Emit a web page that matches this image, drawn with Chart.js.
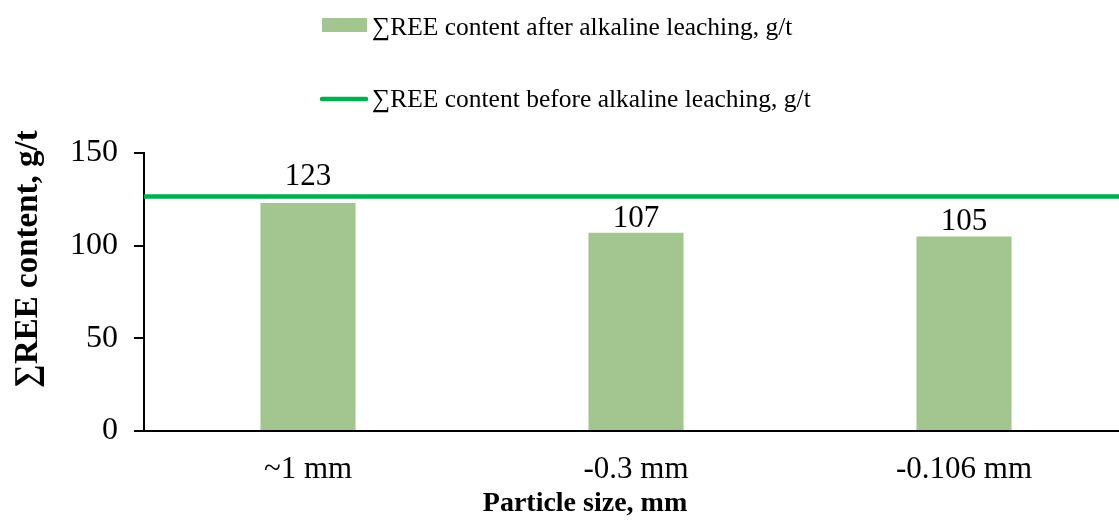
<!DOCTYPE html>
<html>
<head>
<meta charset="utf-8">
<script src="https://cdn.jsdelivr.net/npm/chart.js@4.4.1/dist/chart.umd.min.js"></script>
<style>
  html, body { margin: 0; padding: 0; background: #fff; overflow: hidden; }
  #reeChart { display: block; }
</style>
</head>
<body>
<canvas id="reeChart" width="1130" height="523"></canvas>
<script>
const particleSizes = ["~1 mm", "-0.3 mm", "-0.106 mm"];
const reeAfterLeaching = [123, 107, 105];
const reeBeforeLeaching = 126.5;
const legendLabels = [
    "∑REE content after alkaline leaching, g/t",
    "∑REE content before alkaline leaching, g/t"
];
const yAxisTitle = "∑REE content, g/t";
const xAxisTitle = "Particle size, mm";

const barColor = "#A3C58F";
const lineColor = "#00B050";
const serif = "'Liberation Serif', 'Times New Roman', serif";

// value labels above the bars, lifted over the reference line when they would cross it
const barValueLabels = {
    id: "barValueLabels",
    afterDatasetsDraw(chart) {
        const ctx = chart.ctx;
        const lineY = chart.scales.y.getPixelForValue(reeBeforeLeaching);
        const meta = chart.getDatasetMeta(0);
        ctx.save();
        ctx.font = `31px ${serif}`;
        ctx.fillStyle = "#000";
        ctx.textAlign = "center";
        ctx.textBaseline = "alphabetic";
        meta.data.forEach((bar, i) => {
            let y = bar.y - 6;
            if (y + 3 > lineY && y - 24 < lineY) {
                y = lineY - 12;
            }
            ctx.fillText(String(reeAfterLeaching[i]), bar.x, y);
        });
        ctx.restore();
    }
};

// two-row legend and both axis titles
const chartDecor = {
    id: "chartDecor",
    afterDraw(chart) {
        const ctx = chart.ctx;
        ctx.save();
        ctx.font = `25.5px ${serif}`;
        ctx.textAlign = "left";
        ctx.textBaseline = "alphabetic";

        ctx.fillStyle = barColor;
        ctx.fillRect(322, 18, 45, 14);
        ctx.fillStyle = "#000";
        ctx.fillText(legendLabels[0], 372, 35);

        ctx.strokeStyle = lineColor;
        ctx.lineWidth = 4.5;
        ctx.lineCap = "round";
        ctx.beginPath();
        ctx.moveTo(322, 99);
        ctx.lineTo(366, 99);
        ctx.stroke();
        ctx.fillText(legendLabels[1], 372, 107);

        ctx.font = `bold 28px ${serif}`;
        ctx.textAlign = "center";
        ctx.textBaseline = "middle";
        ctx.fillText(xAxisTitle, 585, 504);

        ctx.translate(28, 259);
        ctx.rotate(-Math.PI / 2);
        ctx.font = `bold 33px ${serif}`;
        ctx.fillText(yAxisTitle, 0, 0);
        ctx.restore();
    }
};

new Chart(document.getElementById("reeChart").getContext("2d"), {
    type: "bar",
    data: {
        labels: particleSizes,
        datasets: [
            {
                type: "bar",
                label: legendLabels[0],
                data: reeAfterLeaching,
                backgroundColor: barColor,
                barPercentage: 0.29,
                categoryPercentage: 1.0,
                grouped: false,
                xAxisID: "x",
                order: 2
            },
            {
                type: "line",
                label: legendLabels[1],
                data: [{ x: 0, y: reeBeforeLeaching }, { x: 1, y: reeBeforeLeaching }],
                borderColor: lineColor,
                borderWidth: 4.5,
                pointRadius: 0,
                fill: false,
                xAxisID: "x2",
                order: 1
            }
        ]
    },
    options: {
        responsive: false,
        animation: false,
        devicePixelRatio: 1,
        layout: {
            padding: { top: 153, right: 2, bottom: 0, left: 0 }
        },
        scales: {
            x: {
                type: "category",
                grid: { display: false, drawTicks: false, tickLength: 0 },
                border: { display: true, color: "#000", width: 2 },
                ticks: {
                    color: "#000",
                    padding: 20,
                    font: { family: serif, size: 31 }
                },
                afterFit: (scale) => { scale.height = 92; }
            },
            x2: {
                type: "linear",
                display: false,
                offset: false,
                min: 0,
                max: 1
            },
            y: {
                min: 0,
                max: 150,
                ticks: {
                    stepSize: 50,
                    color: "#000",
                    padding: 16,
                    font: { family: serif, size: 32 }
                },
                grid: {
                    drawOnChartArea: false,
                    drawTicks: true,
                    tickLength: 10,
                    color: "#000",
                    lineWidth: 2
                },
                border: { display: true, color: "#000", width: 2 },
                afterFit: (scale) => { scale.width = 144; }
            }
        },
        plugins: {
            legend: { display: false },
            tooltip: { enabled: false }
        }
    },
    plugins: [barValueLabels, chartDecor]
});
</script>
</body>
</html>
